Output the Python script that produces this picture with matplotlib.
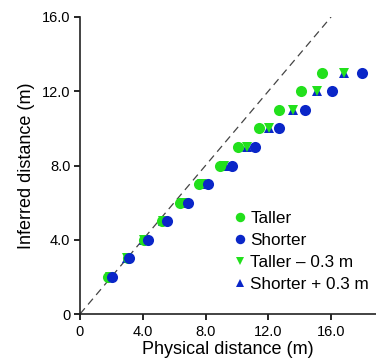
import matplotlib.pyplot as plt
import numpy as np

plt.rcParams['font.family'] = ['Liberation Sans', 'DejaVu Sans']

# inferred distance (m) for each point
inferred = [2, 3, 4, 5, 6, 7, 8, 9, 10, 11, 12, 13]
# physical distance (m)
taller = [1.8, 3.08, 4.1, 5.2, 6.37, 7.6, 8.92, 10.09, 11.41, 12.68, 14.06, 15.4]
shorter = [2.06, 3.12, 4.35, 5.57, 6.86, 8.18, 9.67, 11.15, 12.7, 14.34, 16.04, 17.95]
taller_minus = [1.9, 3.0, 4.05, 5.3, 6.55, 7.75, 9.2, 10.62, 12.07, 13.6, 15.13, 16.8]
shorter_plus = [1.95, 2.98, 4.05, 5.3, 6.6, 7.8, 9.24, 10.62, 12.07, 13.6, 15.13, 16.8]

green = '#22e01c'
blue = '#0a26c8'

fig = plt.figure(figsize=(3.76, 3.62), dpi=100)
ax = fig.add_axes([80 / 376, 48 / 362, 296 / 376, 297 / 362])

ax.plot([0, 16], [0, 16], color='#444444', lw=0.9, dashes=(6, 4), zorder=1)

ax.plot(shorter_plus, inferred, '^', color=blue, ms=6.5, mew=0, label='Shorter + 0.3 m', zorder=2)
ax.plot(taller_minus, inferred, 'v', color=green, ms=6.5, mew=0, label='Taller \u2013 0.3 m', zorder=3)
ax.plot(taller, inferred, 'o', color=green, ms=8, mew=0, label='Taller', zorder=4)
ax.plot(shorter, inferred, 'o', color=blue, ms=8, mew=0, label='Shorter', zorder=5)

ax.set_xlim(0, 296 / 15.69)
ax.set_ylim(0, 16)

ax.spines['right'].set_color('none')
ax.spines['top'].set_color('none')
for s in ['left', 'bottom']:
    ax.spines[s].set_linewidth(1.2)
    ax.spines[s].set_color('#222222')

ticks = [0, 4, 8, 12, 16]
labels = ['0', '4.0', '8.0', '12.0', '16.0']
ax.set_xticks(ticks)
ax.set_xticklabels(labels)
ax.set_yticks(ticks)
ax.set_yticklabels(labels)
ax.tick_params(direction='out', length=4, width=1.2, labelsize=10.5)
ax.tick_params(axis='x', pad=4)
ax.tick_params(axis='y', pad=3)

ax.set_xlabel('Physical distance (m)', fontsize=13, labelpad=1)
ax.set_ylabel('Inferred distance (m)', fontsize=13, labelpad=5)

handles, lbls = ax.get_legend_handles_labels()
order = [2, 3, 1, 0]
ax.legend([handles[i] for i in order], [lbls[i] for i in order],
          loc='lower right', bbox_to_anchor=(1.0, 0.05), frameon=False,
          fontsize=12.3, handlelength=0.6, handletextpad=0.3, labelspacing=0.42,
          markerscale=0.85, borderaxespad=0)

fig.savefig('out.png', dpi=100)
